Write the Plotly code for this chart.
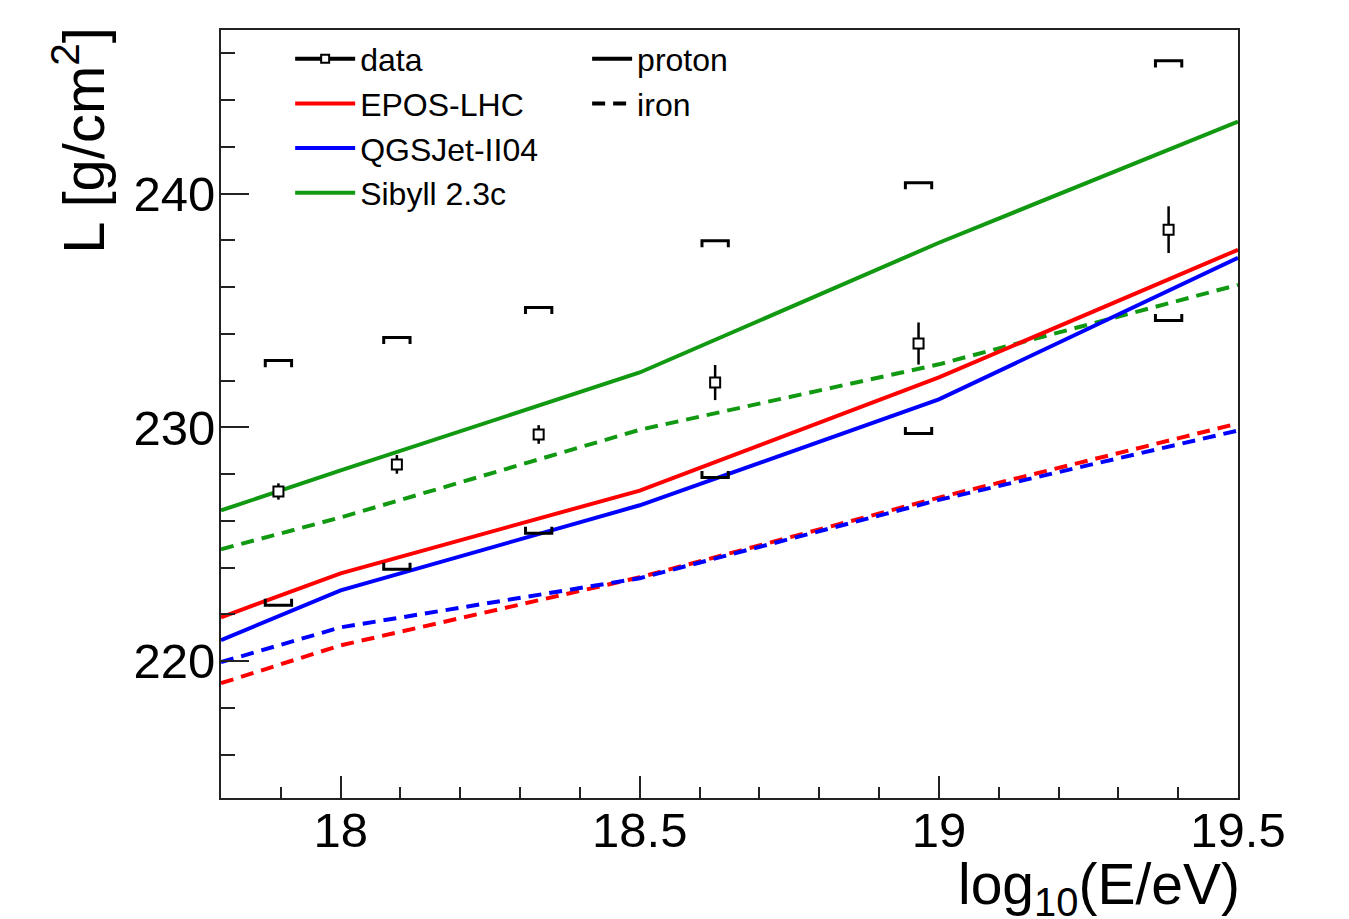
import plotly.graph_objects as go

# ---------------- data ----------------
model_x = [17.8, 18.0, 18.5, 19.0, 19.5]
epos_p = [221.88, 223.76, 227.3, 232.14, 237.6]
qgs_p = [220.9, 223.03, 226.67, 231.2, 237.26]
sib_p = [226.45, 228.16, 232.35, 237.9, 243.08]
epos_fe = [219.06, 220.68, 223.59, 227.0, 230.17]
qgs_fe = [219.96, 221.45, 223.55, 226.9, 229.87]
sib_fe = [224.79, 226.15, 229.9, 232.7, 236.1]

data_x = [17.896, 18.094, 18.331, 18.626, 18.966, 19.384]
data_y = [227.26, 228.42, 229.7, 231.92, 233.59, 238.46]
data_stat = [0.35, 0.4, 0.4, 0.75, 0.9, 1.0]
sys_up = [232.86, 233.85, 235.13, 237.99, 240.47, 245.68]
sys_lo = [222.39, 223.93, 225.47, 227.86, 229.74, 234.57]

x_ticks = [18, 18.5, 19, 19.5]
x_ticklabels = ["18", "18.5", "19", "19.5"]
y_ticks = [220, 230, 240]
y_ticklabels = ["220", "230", "240"]

RED = "#ff0000"
BLUE = "#0000ff"
GREEN = "#119911"
FONT = "Liberation Sans, Arial, sans-serif"
DASH = "13px,8px"
LW = 4

fig = go.Figure()

# iron (dashed)
for ys, col in [(epos_fe, RED), (qgs_fe, BLUE), (sib_fe, GREEN)]:
    fig.add_trace(go.Scatter(x=model_x, y=ys, mode="lines",
                             line=dict(color=col, width=LW, dash=DASH),
                             showlegend=False, hoverinfo="skip"))
# proton (solid)
for ys, col, name in [(epos_p, RED, "EPOS-LHC"), (qgs_p, BLUE, "QGSJet-II04"),
                      (sib_p, GREEN, "Sibyll 2.3c")]:
    fig.add_trace(go.Scatter(x=model_x, y=ys, mode="lines",
                             line=dict(color=col, width=LW),
                             name=name, legend="legend", legendrank=2))

# systematic brackets
hw = 0.022
leg = 0.28
bx, by = [], []
for x, up, lo in zip(data_x, sys_up, sys_lo):
    bx += [x - hw, x - hw, x + hw, x + hw, None]
    by += [up - leg, up, up, up - leg, None]
    bx += [x - hw, x - hw, x + hw, x + hw, None]
    by += [lo + leg, lo, lo, lo + leg, None]
fig.add_trace(go.Scatter(x=bx, y=by, mode="lines",
                         line=dict(color="black", width=3),
                         showlegend=False, hoverinfo="skip"))

# data points with stat errors
fig.add_trace(go.Scatter(x=data_x, y=data_y, mode="markers",
                         marker=dict(symbol="square", size=10, color="white",
                                     line=dict(width=2, color="black")),
                         error_y=dict(type="data", array=data_stat, width=0,
                                      thickness=2.5, color="black"),
                         showlegend=False))

# legend entries
fig.add_trace(go.Scatter(x=[None], y=[None], mode="lines+markers", name="data",
                         line=dict(color="black", width=4),
                         marker=dict(symbol="square", size=8, color="white",
                                     line=dict(width=2, color="black")),
                         legend="legend", legendrank=1))
fig.add_trace(go.Scatter(x=[None], y=[None], mode="lines", name="proton",
                         line=dict(color="black", width=4), legend="legend2"))
fig.add_trace(go.Scatter(x=[None], y=[None], mode="lines", name="iron",
                         line=dict(color="black", width=4, dash=DASH), legend="legend2"))

axis_common = dict(showline=True, linecolor="#222222", linewidth=2, mirror=True,
                   showgrid=False, zeroline=False, ticks="inside",
                   tickcolor="#222222", tickwidth=2,
                   tickfont=dict(family=FONT, size=49, color="black"))

fig.update_xaxes(range=[17.8, 19.5], tickvals=x_ticks, ticktext=x_ticklabels,
                 ticklen=22,
                 minor=dict(dtick=0.1, tick0=17.8, ticks="inside", ticklen=11,
                            tickcolor="#222222", tickwidth=2),
                 ticklabelstandoff=-12, **axis_common)
fig.update_yaxes(range=[214.15, 247.0], tickvals=y_ticks, ticktext=y_ticklabels,
                 ticklen=28,
                 minor=dict(dtick=2, tick0=214, ticks="inside", ticklen=14,
                            tickcolor="#222222", tickwidth=2),
                 ticklabelstandoff=-6, **axis_common)

leg_font = dict(family=FONT, size=32, color="black")
fig.update_layout(
    width=1349, height=919,
    margin=dict(l=221, r=111, t=30, b=121),
    paper_bgcolor="white", plot_bgcolor="white",
    showlegend=True,
    legend=dict(x=0.068, y=0.998, xanchor="left", yanchor="top",
                bgcolor="rgba(0,0,0,0)", font=leg_font, traceorder="normal",
                itemwidth=60, tracegroupgap=0),
    legend2=dict(x=0.36, y=0.998, xanchor="left", yanchor="top",
                 bgcolor="rgba(0,0,0,0)", font=leg_font, itemwidth=40),
    annotations=[
        dict(text="L [g/cm<sup>2</sup>]", xref="paper", yref="paper",
             x=-0.14, y=1.007, xanchor="center", yanchor="top", textangle=-90,
             showarrow=False, font=dict(family=FONT, size=58, color="black")),
        dict(text="log<sub>10</sub>(E/eV)", xref="paper", yref="paper",
             x=1.004, y=-0.068, xanchor="right", yanchor="top",
             showarrow=False, font=dict(family=FONT, size=57, color="black")),
    ],
)

fig.write_html("out.html")
